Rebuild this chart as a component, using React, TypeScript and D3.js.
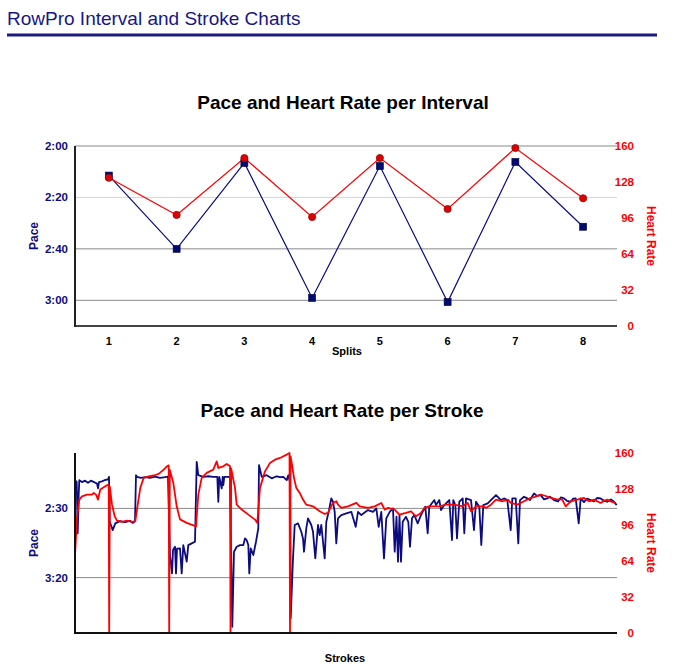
import React from 'react';
import * as d3 from 'd3';

const splits = [1, 2, 3, 4, 5, 6, 7, 8];
const intervalPace = [131.5, 160, 126.6, 179.1, 127.8, 180.7, 126.2, 151.4];
const intervalHR = [131.8, 98.7, 149.3, 96.9, 149.3, 104, 158.2, 113.5];
const paceTicksTop = [120, 140, 160, 180];
const hrTicks = [0, 32, 64, 96, 128, 160];
const paceTicksBottom = [150, 200];

const strokePace: [number, number][] = [
  [0, 129.6], [1.7, 130.8], [2.7, 168], [3.7, 140], [4.3, 129.6], [7, 131], [10, 130], [13, 131.5], [16, 130], [19, 131],
  [22, 132], [23, 135.6], [24, 131], [27, 130.5], [30, 129.5], [33, 129], [34, 127.2], [34.7, 159.7], [37.7, 165.7], [40.3, 160.8],
  [45, 159.2], [50, 160], [55, 159], [58, 160.5], [60, 159], [61, 126], [62, 127.2], [66, 128], [70, 127.5], [75, 128],
  [80, 127], [85, 128], [90, 127.5], [93, 127], [95, 183.7], [97, 197], [98, 180], [100, 177.7], [101, 197], [102, 179],
  [105, 178.9], [106.7, 197], [108.3, 176.5], [111.7, 188.5], [113.3, 176.5], [116.7, 175.3], [120, 174.1], [121.7, 116.4], [123.3, 126], [128.3, 127.2],
  [133.3, 126.8], [138.3, 127.2], [142.3, 127.2], [143.3, 145.2], [144.3, 127.2], [146.7, 135.6], [147.7, 127.2], [148.3, 133.2], [149.3, 127.2], [153.3, 127.2],
  [155, 127.8], [157.3, 235.5], [159, 181.3], [161.7, 177.7], [165, 176.5], [168.3, 176.5], [170, 171.7], [171.7, 173], [173.3, 176.5], [174.3, 197],
  [175.7, 178.9], [178.3, 183.7], [181, 174.1], [183.3, 164.4], [184, 118.7], [186.7, 127.2], [191.7, 126], [196.7, 128.3], [201.7, 126.8], [205, 127.5],
  [208.3, 127.2], [211.7, 129.6], [213.3, 126], [215, 130.8], [215.7, 229.4], [218, 186.1], [219.7, 162], [223, 160.8], [226.3, 166.9], [228, 171.7],
  [229, 181.3], [231.3, 164.4], [233, 157.2], [236.3, 162], [238, 166.9], [240.3, 186.1], [243, 162], [244.7, 169.3], [246.3, 162], [249.7, 186.1],
  [251.3, 159.7], [253.7, 152.5], [256.3, 142.8], [258, 145.2], [259.7, 152.5], [261.3, 175.3], [263, 157.2], [266.3, 154.8], [271.3, 153.6], [276.3, 152.5],
  [280.7, 163.3], [283, 152.5], [286.3, 154.8], [293, 151.2], [298, 152.5], [301.3, 150], [303.7, 163.3], [306.3, 152.5], [309, 186.1], [311.3, 157.2],
  [314.7, 152.5], [318, 150], [319.7, 181.3], [321.5, 156], [323, 188.5], [324.5, 155], [326, 188.5], [327.7, 159.7], [331, 156.1], [333.3, 159.7],
  [335, 177.7], [337, 157.2], [339.3, 154.8], [342.7, 160.8], [346, 154.8], [350.3, 148.8], [352.7, 168], [354.3, 148.8], [359.3, 144], [361, 147.6],
  [364.3, 144], [366, 151.2], [369.3, 147.6], [374.3, 144], [377, 172.9], [378.3, 144], [380.3, 147.6], [382, 171.7], [384.3, 145.2], [387.7, 142.8],
  [389.3, 168], [391, 142.8], [396, 144], [399, 165.7], [401, 145.2], [404.3, 148.8], [406.3, 176.5], [408.3, 147.6], [412.7, 146.4], [417.7, 142.8],
  [421, 140.4], [426, 144], [429, 142.8], [432.3, 144], [435.7, 165.7], [437.3, 142.8], [440.7, 142.8], [443.3, 175.3], [445, 144], [449, 141.6],
  [452.3, 142.8], [455, 144], [459, 139.2], [462, 141], [465.7, 140.4], [469, 143.5], [472.3, 142.8], [475, 141.5], [479, 144], [483, 145],
  [486, 142], [489, 142.8], [492, 144.5], [495.7, 145.2], [498, 143], [500.7, 142.8], [503.7, 160.8], [505.7, 142.8], [509, 145.5], [512, 143],
  [515.7, 144], [519, 145], [522, 142.5], [525.7, 142.8], [529, 144.5], [532.3, 145.2], [536, 143.5], [539, 145.2], [541.7, 147.6],
];

const strokeHR: [number, number][] = [
  [0, 69.7], [2, 102.3], [4.3, 118.6], [7, 121.5], [12, 123], [17, 123], [18.7, 124.5], [21, 123], [23, 118.6], [25.3, 127.5],
  [28.7, 129.5], [32, 131.3], [33.7, 132], [34.2, 0], [34.8, 130], [37, 114.1], [39.7, 103.7], [42, 99.9], [47, 98.7], [52, 99.9],
  [57, 98.7], [60.3, 99.3], [62.7, 114.1], [65.3, 129], [68.7, 137.9], [73.7, 139.3], [78.7, 140], [83.7, 141.4], [88.7, 145.2], [92, 148.2],
  [93.7, 149], [94.2, 0], [94.8, 145], [98.3, 133.4], [101.7, 112.6], [105, 101], [111.7, 97.9], [118.3, 95.7], [121, 94.8], [123.3, 123],
  [126.7, 137.9], [131.7, 142.3], [138.3, 145.2], [141.7, 152.6], [143.3, 146.7], [148.3, 148.2], [151.7, 150.3], [155, 148.2], [155.5, 0], [156.2, 146],
  [160, 129], [161.7, 114.1], [166.7, 109.7], [173.3, 105.2], [180, 100.8], [182.3, 97.9], [185, 129], [190, 143.7], [195, 151.2], [200, 154.1],
  [205, 155.6], [211.7, 158.6], [214.5, 160], [215, 0], [215.6, 157], [217, 149.7], [219, 137.9], [221.3, 129], [224.7, 124.5], [228, 118.6],
  [231.3, 114.1], [238, 112.6], [244.7, 108.2], [249.7, 105.8], [253, 106.7], [258, 115.6], [261.3, 117.1], [263, 114.1], [266.3, 111.2], [273, 112.6],
  [281.3, 115.6], [284.7, 112.6], [293, 111.2], [299.7, 112.6], [306.3, 115.6], [309.7, 109.7], [313, 111.2], [319.7, 109.7], [324.3, 105.2], [331, 106.7],
  [336, 108.2], [341, 103.7], [346, 106.7], [349.3, 111.2], [354.3, 112.6], [364.3, 112.6], [371, 114.1], [379.3, 114.1], [387.7, 112.6], [392.7, 115.6],
  [396, 108.2], [401, 112.6], [407.7, 112.6], [411, 111.2], [416, 114.1], [421, 118.6], [427.7, 117.1], [433, 118.6], [435.7, 115.6], [442.3, 114.1],
  [449, 117.1], [455.7, 120.1], [460, 121], [465.7, 123], [470, 122], [475.7, 120.1], [481, 119], [487.3, 118.6], [490.7, 112.6], [495.7, 117.1],
  [502.3, 118.6], [509, 120.1], [514, 117], [519, 118.6], [525.7, 115.6], [529, 117.5], [532.3, 118.6], [537, 116.5], [540.7, 115.6],
];

const FONT = '"Liberation Sans", Arial, Helvetica, sans-serif';
const NAVY = '#0c0c80';
const RED = '#ff0000';

const fmtPace = (s: number) => `${Math.floor(s / 60)}:${String(Math.round(s % 60)).padStart(2, '0')}`;

export default function App() {
  const L = 75, R = 617;
  // top chart
  const tT = 146, tB = 326;
  const xTop = d3.scalePoint<number>().domain(splits).range([L, R]).padding(0.5);
  const yPaceTop = d3.scaleLinear().domain([120, 190]).range([tT, tB]);
  const yHrTop = d3.scaleLinear().domain([0, 160]).range([tB, tT]);
  const paceLineTop = d3.line<number>().x((_, i) => xTop(splits[i])!).y((d) => yPaceTop(d));
  const hrLineTop = d3.line<number>().x((_, i) => xTop(splits[i])!).y((d) => yHrTop(d));

  // bottom chart
  const bT = 453, bB = 633;
  const xBot = d3.scaleLinear().domain([0, 542]).range([L, R]);
  const yPaceBot = d3.scaleLinear().domain([110, 240]).range([bT, bB]);
  const yHrBot = d3.scaleLinear().domain([0, 160]).range([bB, bT]);
  const paceLineBot = d3.line<[number, number]>().x((d) => xBot(d[0])).y((d) => yPaceBot(d[1]));
  const hrLineBot = d3.line<[number, number]>().x((d) => xBot(d[0])).y((d) => yHrBot(d[1]));

  const gridColor = (v: number) => (v === 140 ? '#d4d4d4' : '#8a8a8a');

  return (
    <svg width={685} height={672} style={{ position: 'absolute', left: 0, top: 0, background: '#fff' }} fontFamily={FONT}>
      <rect width={685} height={672} fill="#fff" />
      {/* header */}
      <text x={7} y={25} fontSize={19} fill="#16168a">RowPro Interval and Stroke Charts</text>
      <line x1={7} x2={657} y1={35} y2={35} stroke="#1a1a80" strokeWidth={3} />

      {/* ===== Top chart ===== */}
      <text x={343} y={109} textAnchor="middle" fontSize={19} fontWeight="bold" fill="#000">Pace and Heart Rate per Interval</text>
      {paceTicksTop.map((v) => (
        <line key={'g' + v} x1={L} x2={R} y1={yPaceTop(v)} y2={yPaceTop(v)} stroke={gridColor(v)} strokeWidth={1} />
      ))}
      {paceTicksTop.map((v) => (
        <text key={'pl' + v} x={68} y={yPaceTop(v)} dy="0.35em" textAnchor="end" fontSize={11.5} fontWeight="bold" fill={NAVY}>{fmtPace(v)}</text>
      ))}
      {hrTicks.map((v) => (
        <text key={'hl' + v} x={634} y={yHrTop(v)} dy="0.35em" textAnchor="end" fontSize={11.5} fontWeight="bold" fill={RED}>{v}</text>
      ))}
      {splits.map((s) => (
        <text key={'xl' + s} x={xTop(s)} y={345} textAnchor="middle" fontSize={11} fontWeight="bold" fill="#000">{s}</text>
      ))}
      <text x={347} y={355} textAnchor="middle" fontSize={11} fontWeight="bold" fill="#000">Splits</text>
      <text transform={`translate(38,236) rotate(-90)`} textAnchor="middle" fontSize={12} fontWeight="bold" fill={NAVY}>Pace</text>
      <text transform={`translate(647,236) rotate(90)`} textAnchor="middle" fontSize={12} fontWeight="bold" fill={RED}>Heart Rate</text>
      <line x1={L} x2={R} y1={tB} y2={tB} stroke="#444" strokeWidth={2} />
      <line x1={L} x2={L} y1={tT} y2={tB + 1} stroke="#222" strokeWidth={2} />

      <path d={paceLineTop(intervalPace) || ''} fill="none" stroke={NAVY} strokeWidth={1.2} />
      <path d={hrLineTop(intervalHR) || ''} fill="none" stroke={RED} strokeWidth={1.2} />
      {intervalPace.map((v, i) => (
        <rect key={'sq' + i} x={xTop(splits[i])! - 3.5} y={yPaceTop(v) - 3.5} width={7} height={7} fill="#000a70" stroke="#000040" strokeWidth={0.6} />
      ))}
      {intervalHR.map((v, i) => (
        <circle key={'c' + i} cx={xTop(splits[i])} cy={yHrTop(v)} r={3.6} fill="#e00000" stroke="#8a1010" strokeWidth={0.8} />
      ))}

      {/* ===== Bottom chart ===== */}
      <text x={342} y={417} textAnchor="middle" fontSize={19} fontWeight="bold" fill="#000">Pace and Heart Rate per Stroke</text>
      {paceTicksBottom.map((v) => (
        <line key={'bg' + v} x1={L} x2={R} y1={yPaceBot(v)} y2={yPaceBot(v)} stroke="#8a8a8a" strokeWidth={1} />
      ))}
      {paceTicksBottom.map((v) => (
        <text key={'bpl' + v} x={68} y={yPaceBot(v)} dy="0.35em" textAnchor="end" fontSize={11.5} fontWeight="bold" fill={NAVY}>{fmtPace(v)}</text>
      ))}
      {hrTicks.map((v) => (
        <text key={'bhl' + v} x={634} y={yHrBot(v)} dy="0.35em" textAnchor="end" fontSize={11.5} fontWeight="bold" fill={RED}>{v}</text>
      ))}
      <text x={345} y={662} textAnchor="middle" fontSize={11} fontWeight="bold" fill="#000">Strokes</text>
      <text transform={`translate(38,543) rotate(-90)`} textAnchor="middle" fontSize={12} fontWeight="bold" fill={NAVY}>Pace</text>
      <text transform={`translate(647,543) rotate(90)`} textAnchor="middle" fontSize={12} fontWeight="bold" fill={RED}>Heart Rate</text>

      <path d={paceLineBot(strokePace) || ''} fill="none" stroke={NAVY} strokeWidth={1.8} strokeLinejoin="round" />
      <path d={hrLineBot(strokeHR) || ''} fill="none" stroke={RED} strokeWidth={1.8} strokeLinejoin="round" />
      <line x1={L} x2={R} y1={bB} y2={bB} stroke="#111" strokeWidth={2} />
      <line x1={L} x2={L} y1={bT} y2={bB + 1} stroke="#111" strokeWidth={2} />
    </svg>
  );
}
